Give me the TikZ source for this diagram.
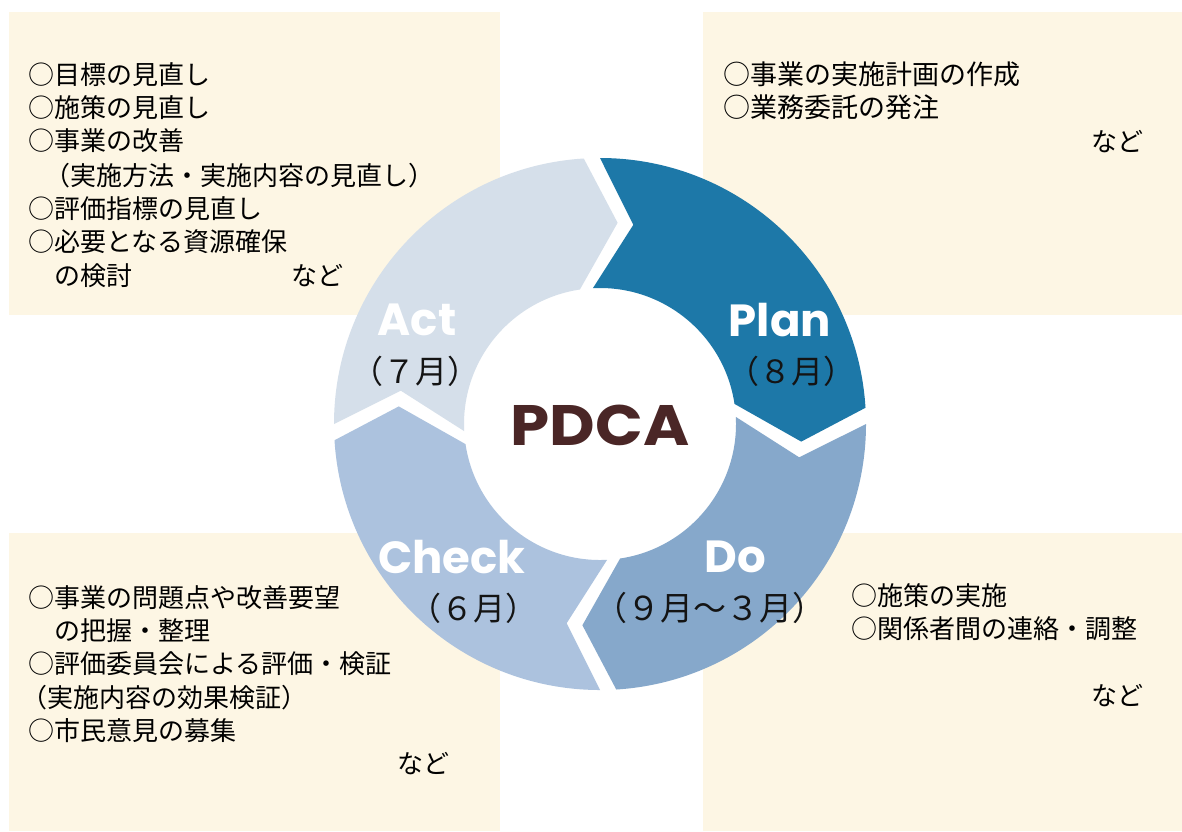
\documentclass[tikz,border=0pt]{standalone}
\usepackage{fontspec}
\usepackage{graphicx}
\newfontfamily\jp{Noto Sans CJK JP}
\newfontfamily\pop{Poppins}
\definecolor{beige}{HTML}{FDF6E4}
\definecolor{planc}{HTML}{1D78A8}
\definecolor{doc}{HTML}{86A8CB}
\definecolor{checkc}{HTML}{ACC2DE}
\definecolor{actc}{HTML}{D5DFEA}
\definecolor{pdcac}{HTML}{4A2626}
\begin{document}
\begin{tikzpicture}[x=1pt,y=1pt,
  box/.style={fill=beige, draw=none},
  jptext/.style={font=\jp\fontsize{26}{32}\selectfont, anchor=west, inner sep=0pt, text=black},
  jpwide/.style={jptext, font=\jp\fontsize{27}{32}\selectfont},
  month/.style={font=\jp\fontsize{32}{36}\selectfont, inner sep=0pt, text=black!92},
  phase/.style={font=\pop\bfseries\fontsize{45}{50}\selectfont, inner sep=0pt, text=white},
]
\useasboundingbox (0,0) rectangle (1182,-831);
\fill[white] (0,0) rectangle (1182,-831);
% boxes
\fill[box] (9,-12) rectangle (500,-315);
\fill[box] (703,-12) rectangle (1182,-315);
\fill[box] (9,-533) rectangle (500,-831);
\fill[box] (703,-533) rectangle (1182,-831);
% ring
\begin{scope}[shift={(600,-424)}]
\fill[planc] (90:266pt) arc[start angle=90, end angle=3.5, radius=266pt] -- (-5:202pt) -- (8.5:136pt) arc[start angle=8.5, end angle=93, radius=136pt] -- (80.5:202pt) -- cycle;
\fill[doc] (0:266pt) arc[start angle=0, end angle=-86.5, radius=266pt] -- (-95:202pt) -- (-81.5:136pt) arc[start angle=-81.5, end angle=3, radius=136pt] -- (-9.5:202pt) -- cycle;
\fill[checkc] (-90:266pt) arc[start angle=-90, end angle=-176.5, radius=266pt] -- (-185:202pt) -- (-171.5:136pt) arc[start angle=-171.5, end angle=-87, radius=136pt] -- (-99.5:202pt) -- cycle;
\fill[actc] (-180:266pt) arc[start angle=-180, end angle=-266.5, radius=266pt] -- (-275:202pt) -- (-261.5:136pt) arc[start angle=-261.5, end angle=-177, radius=136pt] -- (-189.5:202pt) -- cycle;
\end{scope}
% centre
\node[font=\pop\bfseries\fontsize{57}{60}\selectfont, text=pdcac, inner sep=0pt] (pdca) at (600,-425) {\scalebox{1.1}[1]{PDCA}};
% phase labels
\node[phase] (plan) at (780,-320) {Plan};
\node[phase] (act) at (417,-320) {Act};
\node[phase] (check) at (452,-557) {Check};
\node[phase] (do) at (735,-557) {Do};
% months
\node[month] (m8) at (791,-371) {（８月）};
\node[month] (m7) at (415,-371) {（７月）};
\node[month] (m6) at (473,-608) {（６月）};
\node[month, font=\jp\fontsize{33}{36}\selectfont] (m9) at (710,-608) {（９月～３月）};
% top-left
\node[jptext] (a1) at (28,-75) {○目標の見直し};
\node[jptext] (a2) at (28,-108) {○施策の見直し};
\node[jptext] (a3) at (28,-141) {○事業の改善};
\node[jptext] (a4) at (44,-176) {（実施方法・実施内容の見直し）};
\node[jptext] (a5) at (28,-209) {○評価指標の見直し};
\node[jptext] (a6) at (28,-242) {○必要となる資源確保};
\node[jptext] (a7) at (54,-276) {の検討};
\node[jptext] (a8) at (291,-276) {など};
% top-right
\node[jpwide] (p1) at (723,-74) {○事業の実施計画の作成};
\node[jpwide] (p2) at (723,-107) {○業務委託の発注};
\node[jptext] (p3) at (1091,-142) {など};
% bottom-left
\node[jptext] (c1) at (28,-598) {○事業の問題点や改善要望};
\node[jptext] (c2) at (54,-631) {の把握・整理};
\node[jptext] (c3) at (28,-664) {○評価委員会による評価・検証};
\node[jptext] (c4) at (21,-698) {（実施内容の効果検証）};
\node[jptext] (c5) at (28,-731) {○市民意見の募集};
\node[jptext] (c6) at (397,-764) {など};
% bottom-right
\node[jptext] (d1) at (851,-596) {○施策の実施};
\node[jptext] (d2) at (851,-629) {○関係者間の連絡・調整};
\node[jptext] (d3) at (1091,-696) {など};
\end{tikzpicture}
\end{document}
